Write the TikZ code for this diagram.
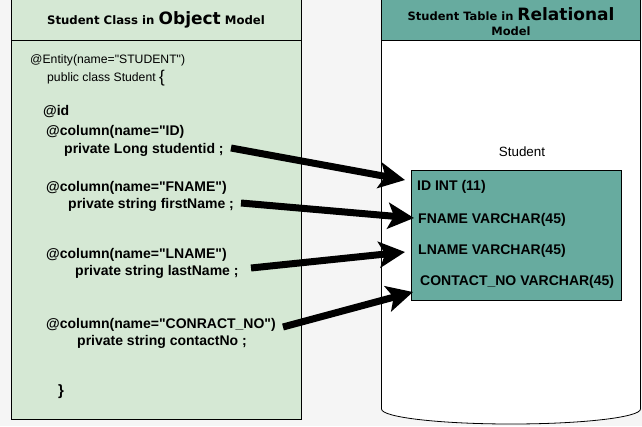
\documentclass[tikz,border=0pt]{standalone}
\usepackage{fontspec}
\setmainfont{Liberation Sans}[Ligatures=TeXOff]
\newfontfamily\hdfont{DejaVu Sans}
\usetikzlibrary{arrows.meta}
\definecolor{bg}{HTML}{F5F5F5}
\definecolor{leftfill}{HTML}{D5E8D4}
\definecolor{teal}{HTML}{67AB9F}
\tikzset{
  code/.style={anchor=west, inner sep=0pt, font=\fontsize{14}{16}\selectfont\bfseries},
  plain/.style={anchor=west, inner sep=0pt, font=\fontsize{12.2}{14}\selectfont},
  rowtxt/.style={anchor=west, inner sep=0pt, font=\fontsize{14}{16}\selectfont\bfseries},
  bigarrow/.style={line width=7pt, -{Stealth[length=26pt,width=26pt,inset=6pt]}},
}
\begin{document}
\begin{tikzpicture}[x=1pt,y=-1pt]
\useasboundingbox (0,0) rectangle (642,426);
\fill[bg] (0,0) rectangle (642,426);
% left box
\draw[fill=leftfill, line width=0.8pt] (11.5,-1) rectangle (301.5,419.5);
\draw[line width=0.8pt] (11.5,40.5) -- (301.5,40.5);
\node[font=\hdfont\bfseries\fontsize{11.7}{13}\selectfont] (lhead) at (156,20) {Student Class in {\fontsize{17}{19}\selectfont Object} Model};
% cylinder
\draw[fill=white, line width=0.8pt] (381.5,-1) -- (381.5,409) arc[start angle=180, end angle=0, x radius=129.5, y radius=15] -- (640.5,-1);
\draw[fill=teal, line width=0.8pt] (381.5,-1) rectangle (640.5,40.5);
\node[font=\hdfont\bfseries\fontsize{11.5}{13}\selectfont, inner sep=0pt] (rhead1) at (511,14) {Student Table in {\fontsize{17}{19}\selectfont Relational}};
\node[font=\hdfont\bfseries\fontsize{11.5}{13}\selectfont, inner sep=0pt] (rhead2) at (511,31) {Model};
% table
\node[font=\fontsize{13.4}{15}\selectfont] (tlabel) at (522,152) {Student};
\draw[fill=teal, line width=0.8pt] (411.5,170.5) rectangle (621.5,300);
\node[rowtxt] (r1) at (417,186.5) {ID INT (11)};
\node[rowtxt] (r2) at (418,220) {FNAME VARCHAR(45)};
\node[rowtxt] (r3) at (418,250.5) {LNAME VARCHAR(45)};
\node[rowtxt] (r4) at (420,281.5) {CONTACT\_NO VARCHAR(45)};
% left text
\node[plain] (ent) at (30,60) {@Entity(name="STUDENT")};
\node[plain] (cls) at (47,78) {public class Student \raisebox{-1pt}{\fontsize{17}{17}\selectfont\{}};
\node[code] (id) at (43,112) {@id};
\node[code] (c1) at (46,132) {@column(name="ID)};
\node[code] (p1) at (64,150) {private Long studentid ;};
\node[code] (c2) at (46,188) {@column(name="FNAME")};
\node[code] (p2) at (68,205) {private string firstName ;};
\node[code] (c3) at (46,255) {@column(name="LNAME")};
\node[code] (p3) at (75,272) {private string lastName ;};
\node[code] (c4) at (46,325) {@column(name="CONRACT\_NO")};
\node[code] (p4) at (77,342) {private string contactNo ;};
\node[code, font=\fontsize{15}{17}\selectfont\bfseries] (close) at (58,392) {\}};
% arrows
\coordinate (s1) at (231,148);
\coordinate (e1) at (405,180);
\coordinate (s2) at (241,203);
\coordinate (e2) at (414,218);
\coordinate (s3) at (251,268);
\coordinate (e3) at (405,252);
\coordinate (s4) at (283,327);
\coordinate (e4) at (413,292);
\draw[bigarrow] (s1) -- (e1);
\draw[bigarrow] (s2) -- (e2);
\draw[bigarrow] (s3) -- (e3);
\draw[bigarrow] (s4) -- (e4);
\end{tikzpicture}
\end{document}
